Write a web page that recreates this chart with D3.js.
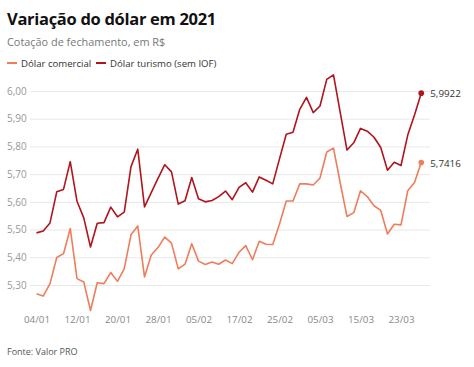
<!DOCTYPE html>
<html>
<head>
<meta charset="utf-8">
<script src="https://cdn.jsdelivr.net/npm/d3@7"></script>
<style>
  body { margin: 0; background: #fff; }
  svg { display: block; font-family: "Open Sans", sans-serif; }
</style>
</head>
<body>
<svg id="chart" width="474" height="367"></svg>
<script>
const dates = [
  "04/01","05/01","06/01","07/01","08/01","11/01","12/01","13/01","14/01","15/01",
  "18/01","19/01","20/01","21/01","22/01","25/01","26/01","27/01","28/01","29/01",
  "01/02","02/02","03/02","04/02","05/02","08/02","09/02","10/02","11/02","12/02",
  "17/02","18/02","19/02","22/02","23/02","24/02","25/02","26/02",
  "01/03","02/03","03/03","04/03","05/03","08/03","09/03","10/03","11/03","12/03",
  "15/03","16/03","17/03","18/03","19/03","22/03","23/03","24/03","25/03","26/03"
];
const comercial = [
  5.268,5.260,5.305,5.399,5.413,5.504,5.323,5.311,5.208,5.308,
  5.305,5.345,5.313,5.359,5.481,5.513,5.329,5.408,5.435,5.473,
  5.451,5.358,5.375,5.449,5.386,5.374,5.383,5.375,5.390,5.377,
  5.418,5.442,5.391,5.458,5.447,5.446,5.520,5.603,5.603,5.665,
  5.665,5.661,5.686,5.780,5.794,5.668,5.547,5.561,5.640,5.619,
  5.586,5.569,5.484,5.519,5.517,5.640,5.670,5.7416
];
const turismo = [
  5.488,5.495,5.524,5.636,5.645,5.745,5.602,5.542,5.437,5.523,
  5.525,5.581,5.546,5.563,5.727,5.790,5.582,5.633,5.685,5.734,
  5.708,5.592,5.604,5.688,5.611,5.600,5.605,5.619,5.639,5.608,
  5.652,5.669,5.635,5.690,5.678,5.665,5.755,5.844,5.851,5.934,
  5.977,5.922,5.946,6.042,6.058,5.922,5.787,5.813,5.865,5.855,
  5.833,5.796,5.714,5.743,5.731,5.841,5.913,5.9922
];
const yTicks = [5.30, 5.40, 5.50, 5.60, 5.70, 5.80, 5.90, 6.00];
const xTickLabels = ["04/01","12/01","20/01","28/01","05/02","17/02","25/02","05/03","15/03","23/03"];
const seriesNames = ["Dólar comercial", "Dólar turismo (sem IOF)"];
const seriesColors = ["#ee7d5b", "#b0141c"];

const svg = d3.select("#chart");
const fmt = v => v.toFixed(2).replace(".", ",");

const x = d3.scalePoint().domain(dates).range([36.5, 421.25]);
const y = d3.scaleLinear().domain([5.2, 6.0]).range([312.7, 91]);

// Title
svg.append("text").attr("x", 7).attr("y", 25)
  .attr("font-size", 16.5).attr("font-weight", 700).attr("fill", "#111")
  .attr("letter-spacing", -0.3)
  .text("Variação do dólar em 2021");
svg.append("text").attr("x", 7).attr("y", 46)
  .attr("font-size", 10.9).attr("fill", "#777")
  .text("Cotação de fechamento, em R$");

// Legend
const leg = svg.append("g");
const legItems = [{x: 7, tx: 21}, {x: 96, tx: 110}];
seriesNames.forEach((n, i) => {
  leg.append("line").attr("x1", legItems[i].x).attr("x2", legItems[i].x + 10)
    .attr("y1", 63).attr("y2", 63).attr("stroke", seriesColors[i]).attr("stroke-width", 2);
  leg.append("text").attr("x", legItems[i].tx).attr("y", 66.5)
    .attr("font-size", 9.6).attr("fill", "#333").text(n);
});

// Y grid + labels
const yAxis = d3.axisLeft(y).tickValues(yTicks).tickSize(-400).tickFormat(fmt);
const gy = svg.append("g").attr("transform", "translate(30,0)").call(yAxis);
gy.select(".domain").remove();
gy.selectAll(".tick line").attr("stroke", "#e8e8e8").attr("stroke-width", 1);
gy.selectAll(".tick text").attr("x", -23).attr("text-anchor", "start")
  .attr("font-size", 10).attr("fill", "#999").attr("font-family", "Open Sans, sans-serif");

// X labels
const xAxis = d3.axisBottom(x).tickValues(xTickLabels).tickSize(0).tickPadding(0);
const gx = svg.append("g").attr("transform", "translate(0,310)").call(xAxis);
gx.select(".domain").remove();
gx.selectAll(".tick text").attr("dy", "0.85em").attr("y", 5)
  .attr("font-size", 9.8).attr("fill", "#888").attr("font-family", "Open Sans, sans-serif");

// Lines
const line = d3.line().x((d, i) => x(dates[i])).y(d => y(d));
[comercial, turismo].forEach((s, k) => {
  svg.append("path").datum(s).attr("d", line)
    .attr("fill", "none").attr("stroke", seriesColors[k])
    .attr("stroke-width", 1.6).attr("stroke-linejoin", "round");
  const last = s.length - 1;
  svg.append("circle").attr("cx", x(dates[last])).attr("cy", y(s[last]))
    .attr("r", 2.8).attr("fill", seriesColors[k]);
  svg.append("text").attr("x", x(dates[last]) + 9).attr("y", y(s[last]) + 4)
    .attr("font-size", 9.8).attr("fill", "#333")
    .text(s[last].toFixed(4).replace(".", ","));
});

// Source
svg.append("text").attr("x", 7).attr("y", 354.5)
  .attr("font-size", 9).attr("fill", "#555").text("Fonte: Valor PRO");
</script>
</body>
</html>
